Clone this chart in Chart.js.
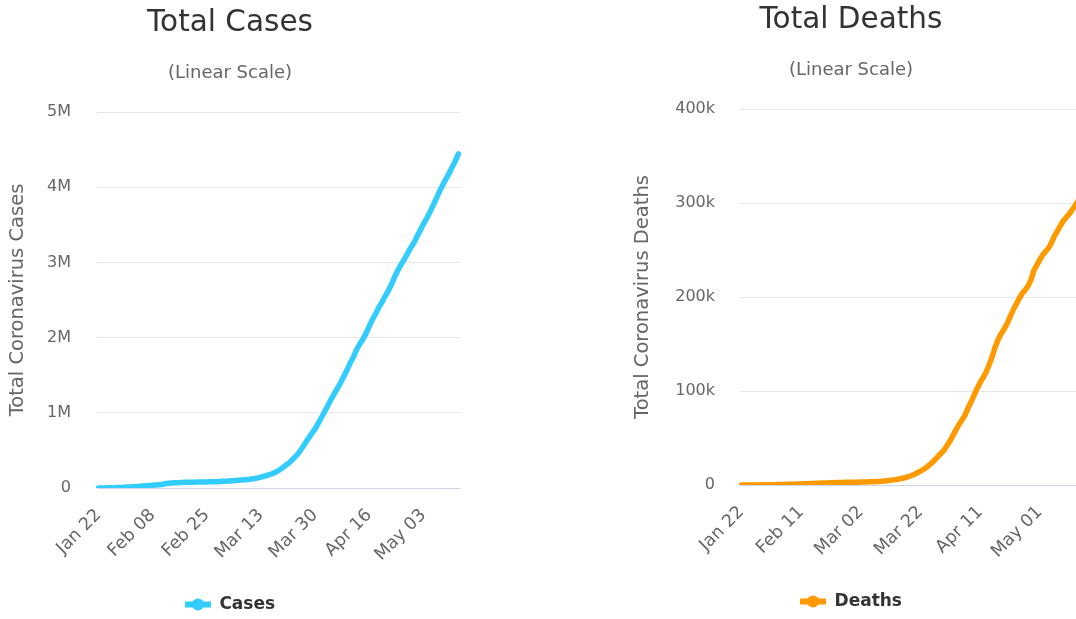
<!DOCTYPE html>
<html>
<head>
<meta charset="utf-8">
<script src="https://cdn.jsdelivr.net/npm/chart.js@4/dist/chart.umd.min.js"></script>
<style>
    html, body { margin:0; padding:0; background:#fff; width:1076px; height:619px; overflow:hidden; }
    canvas { position:absolute; }
    #graficaCasos { left:0; top:0; }
    #graficaMuertes { left:622px; top:-3px; }
</style>
</head>
<body>
<canvas id="graficaCasos" width="462" height="623"></canvas>
<canvas id="graficaMuertes" width="462" height="623"></canvas>
<script>
// Jan 22 - May 14, one value per day
var casesData = [
    580, 845, 1317, 2015, 2800, 4581, 6058, 7813, 9823, 11950,
    14553, 17391, 20630, 24545, 28266, 31439, 34876, 37552, 40553, 43099, 45134, 59287, 64438, 67100, 69197,
    71329, 73332, 75184, 75700, 76677, 77673, 78651, 79205, 80087, 80828, 81820, 83112, 84615, 86604,
    88585, 90443, 93016, 95314, 98425, 102050, 106099, 109991, 114381, 118948, 126214, 134576, 145483, 156653,
    169593, 182490, 198238, 218822, 246417, 275875, 308464, 341365, 383380, 424117, 474847, 537845, 600771,
    667060, 728378, 786324, 862211,
    937604, 1016163, 1097906, 1179010, 1250473, 1323434, 1399514, 1483880, 1568244, 1662082, 1738418, 1838434,
    1912918, 1976191, 2056055, 2152437, 2240190, 2317759, 2401379, 2472259, 2549294, 2623415, 2708885, 2811193,
    2896746, 2971475, 3041764, 3116398, 3193886, 3256846,
    3343777, 3427343, 3506729, 3583055, 3662691, 3755341, 3845718, 3938064, 4024009, 4101699, 4177502, 4261747,
    4347018, 4442163
];
var deathsData = [
    17, 25, 41, 56, 80, 106, 132, 170, 213, 259,
    304, 362, 426, 492, 565, 638, 724, 813, 910, 1018, 1115, 1261, 1383, 1526, 1669, 1775, 1873, 2009, 2126,
    2247, 2360, 2460, 2618, 2699, 2763, 2800, 2858, 2923, 2977,
    3050, 3117, 3202, 3285, 3387, 3494, 3599, 3827, 4025, 4296, 4628, 4981, 5428, 5833, 6520, 7162, 7979, 8951,
    10030, 11386, 13011, 14640, 16558, 18898, 21293, 24073, 27365, 30856, 33968, 37560, 42315,
    47246, 53199, 59130, 64710, 69458, 74639, 82132, 88476, 95547, 102758, 108828, 114215, 119717, 127621,
    136061, 146227, 154344, 160693, 165620, 171194, 178584, 185497, 191825, 197740, 203389, 206994, 211212,
    217721, 228030, 233760,
    239560, 244910, 248550, 252440, 258300, 265270, 270720, 276320, 281440, 285100, 288700, 293300, 297700,
    303400
];
var casesTicks = ['Jan 22', 'Feb 08', 'Feb 25', 'Mar 13', 'Mar 30', 'Apr 16', 'May 03'];
var deathsTicks = ['Jan 22', 'Feb 11', 'Mar 02', 'Mar 22', 'Apr 11', 'May 01'];
var casesYTicks = ['0', '1M', '2M', '3M', '4M', '5M'];
var deathsYTicks = ['0', '100k', '200k', '300k', '400k'];

var meses = ['Jan', 'Feb', 'Mar', 'Apr', 'May'];
var diasMes = [31, 29, 31, 30, 31];
var fechas = [];
var m = 0, d = 22;
for (var i = 0; i < casesData.length; i++) {
    fechas.push(meses[m] + ' ' + (d < 10 ? '0' + d : d));
    d++;
    if (d > diasMes[m]) { d = 1; m++; }
}

Chart.defaults.font.family = '"DejaVu Sans", Verdana, sans-serif';

function simboloLeyenda(color) {
    var c = document.createElement('canvas');
    c.width = 26;
    c.height = 13;
    var ctx = c.getContext('2d');
    ctx.strokeStyle = color;
    ctx.lineWidth = 6;
    ctx.beginPath();
    ctx.moveTo(0, 6.5);
    ctx.lineTo(26, 6.5);
    ctx.stroke();
    ctx.fillStyle = color;
    ctx.beginPath();
    ctx.arc(13, 6.5, 6, 0, Math.PI * 2);
    ctx.fill();
    return c;
}

function graficaTotal(info) {
    var canvas = document.getElementById(info.id).getContext('2d');
    return new Chart(canvas, {
        type: 'line',
        data: {
            labels: fechas,
            datasets: [{
                label: info.serie,
                data: info.datos,
                borderColor: info.color,
                backgroundColor: info.color,
                borderWidth: 5.5,
                borderCapStyle: 'round',
                borderJoinStyle: 'round',
                pointRadius: 0,
                pointStyle: simboloLeyenda(info.color),
                fill: false,
                tension: 0
            }]
        },
        options: {
            responsive: false,
            animation: false,
            layout: { padding: { left: 0, right: info.derecha, top: 0, bottom: 0 } },
            plugins: {
                title: {
                    display: true,
                    text: info.titulo,
                    color: '#333333',
                    font: { size: 29.5, weight: 'normal' },
                    padding: { top: 6, bottom: 21 }
                },
                subtitle: {
                    display: true,
                    text: '(Linear Scale)',
                    color: '#666666',
                    font: { size: 18 },
                    padding: { top: 0, bottom: 28 }
                },
                legend: {
                    position: 'bottom',
                    labels: {
                        usePointStyle: true,
                        pointStyleWidth: 26,
                        padding: 6,
                        color: '#333333',
                        font: { size: 17, weight: 'bold' }
                    }
                },
                tooltip: { enabled: false }
            },
            scales: {
                x: {
                    offset: true,
                    grid: { display: false, drawTicks: false },
                    border: { display: false },
                    ticks: {
                        autoSkip: false,
                        minRotation: 45,
                        maxRotation: 45,
                        padding: 17,
                        color: '#666666',
                        font: { size: 17.5 },
                        callback: function (value) {
                            var l = this.getLabelForValue(value);
                            return info.ticks.indexOf(l) >= 0 ? l : '';
                        }
                    },
                    afterFit: function (scale) {
                        scale.height = 102;
                        scale.paddingLeft = 0;
                        scale.paddingRight = 0;
                    }
                },
                y: {
                    min: 0,
                    max: info.maximo,
                    grid: {
                        drawTicks: false,
                        color: function (ctx) { return ctx.tick.value === 0 ? '#ccd6eb' : '#e6e6e6'; }
                    },
                    border: { display: false },
                    ticks: {
                        stepSize: info.paso,
                        padding: info.separacion,
                        color: '#666666',
                        font: { size: 16 },
                        callback: function (value, index) { return info.etiquetasY[index]; }
                    },
                    title: {
                        display: true,
                        text: info.tituloY,
                        color: '#666666',
                        font: { size: 19.5 },
                        padding: { top: info.margenTitulo, bottom: 0 }
                    },
                    afterFit: function (scale) { scale.width = info.anchoY; }
                }
            }
        }
    });
}

graficaTotal({
    id: 'graficaCasos',
    titulo: 'Total Cases',
    serie: 'Cases',
    tituloY: 'Total Coronavirus Cases',
    datos: casesData,
    ticks: casesTicks,
    etiquetasY: casesYTicks,
    maximo: 5000000,
    paso: 1000000,
    color: '#33ccff',
    anchoY: 97,
    derecha: 2,
    separacion: 26,
    margenTitulo: 6
});
graficaTotal({
    id: 'graficaMuertes',
    titulo: 'Total Deaths',
    serie: 'Deaths',
    tituloY: 'Total Coronavirus Deaths',
    datos: deathsData,
    ticks: deathsTicks,
    etiquetasY: deathsYTicks,
    maximo: 400000,
    paso: 100000,
    color: '#ff9900',
    anchoY: 118,
    derecha: 4,
    separacion: 25,
    margenTitulo: 9
});
</script>
</body>
</html>
